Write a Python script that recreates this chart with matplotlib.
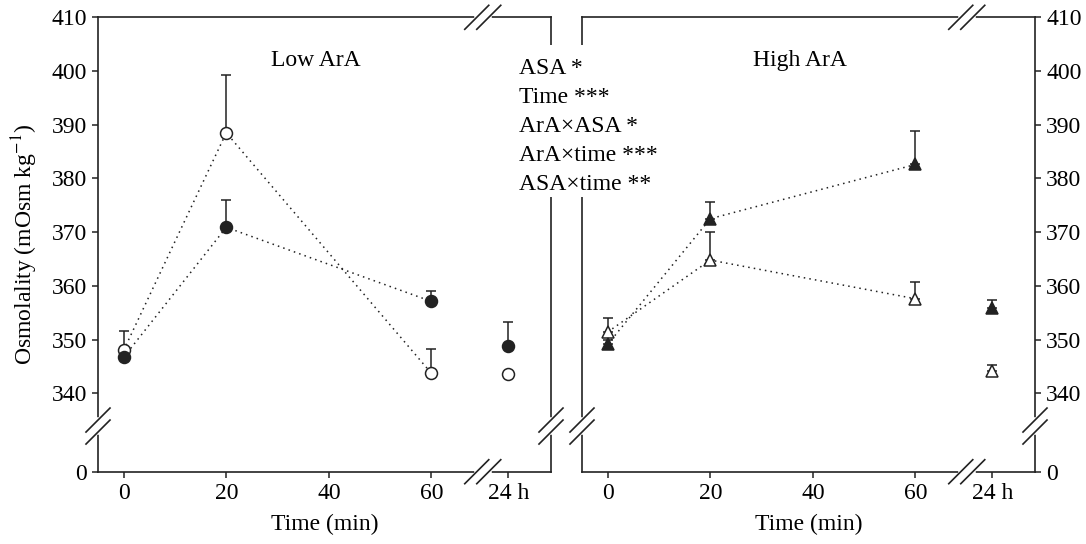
import numpy as np
import matplotlib.pyplot as plt
from matplotlib.patches import Rectangle

plt.rcParams['font.family'] = ['Liberation Serif', 'DejaVu Serif']
plt.rcParams['mathtext.fontset'] = 'stix'
plt.rcParams['font.size'] = 17

# sampling times (min); the 24 h sample sits after the axis break
minutes = [0, 20, 60]
pos_24h = 75
x_ticks = [0, 20, 40, 60, pos_24h]
x_ticklabels = ['0', '20', '40', '60', '24 h']

y_zero = 325.4          # where the "0" of the broken y axis is drawn
y_ticks = [340, 350, 360, 370, 380, 390, 400, 410]

# Low ArA (circles): mean and upper SE at 0, 20, 60 min and 24 h
low_filled = [346.7, 370.9, 357.1, 348.8]
low_filled_se = [1.5, 5.0, 2.0, 4.4]
low_open = [348.0, 388.5, 343.7, 343.6]
low_open_se = [3.6, 10.7, 4.5, 0.4]

# High ArA (triangles)
high_filled = [349.1, 372.5, 382.6, 355.9]
high_filled_se = [0.8, 3.2, 6.3, 1.4]
high_open = [351.4, 364.8, 357.6, 344.1]
high_open_se = [2.7, 5.2, 3.2, 1.2]

stats_lines = ['ASA *', 'Time ***', 'ArA\u00d7ASA *', 'ArA\u00d7time ***', 'ASA\u00d7time **']

AX_W, AX_H = 453.0, 454.4   # axes size in pixels


def brk(ax, xf, yf, horizontal):
    # cut the spine and draw a pair of slashes across it
    px, py = 1 / AX_W, 1 / AX_H
    kw = dict(transform=ax.transAxes, clip_on=False)
    if horizontal:
        ax.plot([xf - 6 * px, xf + 6 * px], [yf, yf], color='white', lw=4, zorder=4, **kw)
        for c in (xf - 6 * px, xf + 6 * px):
            ax.plot([c - 12 * px, c + 12 * px], [yf - 12 * py, yf + 12 * py],
                    color='#222222', lw=1.2, zorder=5, **kw)
    else:
        ax.plot([xf, xf], [yf - 6 * py, yf + 6 * py], color='white', lw=4, zorder=4, **kw)
        for c in (yf - 6 * py, yf + 6 * py):
            ax.plot([xf - 12 * px, xf + 12 * px], [c - 12 * py, c + 12 * py],
                    color='#222222', lw=1.2, zorder=5, **kw)


def panel(ax, filled, filled_se, opened, opened_se, marker, ms, title):
    xs = minutes + [pos_24h]
    ls = (0, (1, 2.7))
    ax.plot(minutes, opened[:3], ls=ls, color='#222222', lw=1.1, zorder=2)
    ax.plot(minutes, filled[:3], ls=ls, color='#222222', lw=1.1, zorder=2)
    for vals, se in ((opened, opened_se), (filled, filled_se)):
        ax.errorbar(xs, vals, yerr=[np.zeros(len(se)), se], fmt='none',
                    ecolor='#222222', elinewidth=1.1, capsize=3.6, capthick=1.1, zorder=3)
    ax.plot(xs, opened, ls='none', marker=marker, ms=ms, mfc='white',
            mec='#222222', mew=1.1, zorder=4)
    ax.plot(xs, filled, ls='none', marker=marker, ms=ms, mfc='#222222',
            mec='#222222', mew=1.1, zorder=4)

    ax.set_xlim(-5, 83.3)
    ax.set_ylim(y_zero, 410)
    ax.set_xticks(x_ticks)
    ax.set_xticklabels(x_ticklabels)
    ax.set_yticks([y_zero] + y_ticks)
    ax.set_yticklabels(['0'] + [str(v) for v in y_ticks])
    ax.set_xlabel('Time (min)', labelpad=7)
    ax.tick_params(direction='out', length=4.5, width=1.1, pad=3.5, color='#222222')
    for s in ax.spines.values():
        s.set_linewidth(1.2)
        s.set_color('#222222')
    ax.text(0.48, 0.906, title, transform=ax.transAxes, ha='center', va='center')

    xb = (70 + 5) / 88.3
    yb = (333.9 - y_zero) / (410 - y_zero)
    brk(ax, xb, 0, True)
    brk(ax, xb, 1, True)
    brk(ax, 0, yb, False)
    brk(ax, 1, yb, False)


fig = plt.figure(figsize=(10.86, 5.44), dpi=100)
ax1 = fig.add_axes([98 / 1086, 72.3 / 544, AX_W / 1086, AX_H / 544])
ax2 = fig.add_axes([582 / 1086, 72.3 / 544, AX_W / 1086, AX_H / 544])

panel(ax1, low_filled, low_filled_se, low_open, low_open_se, 'o', 8.6, 'Low ArA')
panel(ax2, high_filled, high_filled_se, high_open, high_open_se, '^', 8.2, 'High ArA')

ax1.set_ylabel('Osmolality (mOsm kg$^{-1}$)', labelpad=8)
ax2.yaxis.tick_right()

# white block behind the statistics list, hiding the inner spines
fig.patches.append(Rectangle((540 / 1086, 1 - 197 / 544), 60 / 1086, 152 / 544,
                             transform=fig.transFigure, facecolor='white',
                             edgecolor='none', zorder=1))
for i, line in enumerate(stats_lines):
    fig.text(519 / 1086, 1 - (68 + 29.2 * i) / 544, line, ha='left', va='center', zorder=3)

fig.savefig('out.png', dpi=100)
